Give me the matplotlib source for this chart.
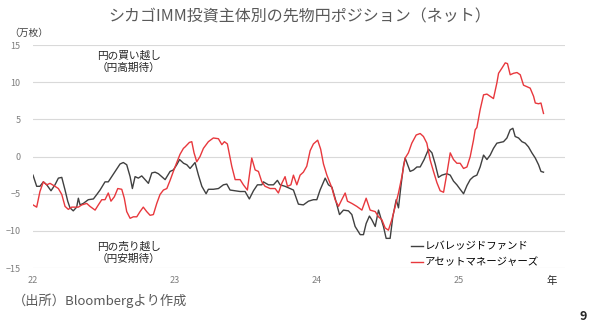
import matplotlib
matplotlib.use('Agg')
import matplotlib.pyplot as plt

plt.rcParams['font.family'] = ['Noto Sans CJK JP', 'DejaVu Sans']

# years since start of 2022
lev_t = [0.000, 0.026, 0.049, 0.073, 0.097, 0.127, 0.155, 0.179, 0.203, 0.226,
         0.245, 0.261, 0.284, 0.308, 0.320, 0.332, 0.355, 0.390, 0.426, 0.450,
         0.473, 0.508, 0.531, 0.555, 0.579, 0.614, 0.637, 0.661, 0.685, 0.701,
         0.720, 0.743, 0.767, 0.790, 0.814, 0.838, 0.861, 0.884, 0.908, 0.932,
         0.967, 0.990, 1.014, 1.034, 1.062, 1.085, 1.108, 1.143, 1.167, 1.191,
         1.221, 1.237, 1.272, 1.308, 1.343, 1.367, 1.390, 1.426, 1.461, 1.496,
         1.526, 1.555, 1.583, 1.614, 1.625, 1.661, 1.696, 1.724, 1.743, 1.778,
         1.814, 1.837, 1.872, 1.907, 1.943, 1.978, 2.002, 2.025, 2.061, 2.084,
         2.108, 2.131, 2.162, 2.190, 2.225, 2.249, 2.272, 2.308, 2.331, 2.350,
         2.373, 2.390, 2.414, 2.437, 2.454, 2.472, 2.491, 2.519, 2.538, 2.562,
         2.578, 2.595, 2.613, 2.625, 2.660, 2.684, 2.708, 2.731, 2.759, 2.790,
         2.814, 2.837, 2.860, 2.884, 2.919, 2.943, 2.966, 2.990, 3.013, 3.037,
         3.061, 3.084, 3.107, 3.131, 3.154, 3.178, 3.202, 3.225, 3.248, 3.272,
         3.296, 3.319, 3.343, 3.366, 3.385, 3.401, 3.425, 3.449, 3.472, 3.495,
         3.519, 3.543, 3.566, 3.583, 3.601]
lev_v = [-2.5, -4.0, -4.0, -3.4, -3.8, -4.6, -3.8, -2.9, -2.8, -4.5,
         -6.0, -6.9, -7.3, -6.8, -5.6, -6.5, -6.3, -5.8, -5.7, -5.1,
         -4.5, -3.4, -3.4, -2.7, -2.0, -1.0, -0.8, -1.1, -2.7, -4.3,
         -2.7, -2.9, -2.6, -3.1, -3.6, -2.2, -2.1, -2.3, -2.7, -3.1,
         -2.0, -1.8, -1.1, -0.4, -0.9, -1.1, -1.6, -0.8, -2.5, -4.0,
         -5.0, -4.4, -4.4, -4.3, -3.8, -3.7, -4.5, -4.6, -4.7, -4.7,
         -5.7, -4.6, -3.8, -3.8, -3.4, -3.8, -3.8, -3.2, -3.8, -4.0,
         -4.3, -4.5, -6.4, -6.5, -6.0, -5.8, -5.8, -4.5, -2.9, -3.8,
         -4.1, -5.6, -7.8, -7.2, -7.3, -7.8, -9.4, -10.5, -10.5, -9.0,
         -8.0, -8.5, -9.4, -7.2, -8.3, -9.4, -11.0, -11.0, -8.1, -5.8,
         -6.9, -4.0, -1.3, -0.2, -2.0, -1.8, -1.4, -1.4, -0.4, 1.0,
         0.5, -1.0, -2.8, -2.5, -2.3, -2.5, -3.3, -3.8, -4.4, -5.0,
         -3.9, -3.1, -2.7, -2.5, -1.4, 0.2, -0.4, 0.2, 1.1, 1.8,
         1.9, 2.0, 2.5, 3.6, 3.8, 2.7, 2.5, 2.0, 1.8, 1.3,
         0.5, -0.2, -1.1, -2.0, -2.1]

am_t = [0.000, 0.026, 0.049, 0.073, 0.097, 0.120, 0.155, 0.179, 0.203, 0.226,
        0.249, 0.273, 0.296, 0.320, 0.344, 0.379, 0.402, 0.438, 0.461, 0.485,
        0.508, 0.531, 0.550, 0.574, 0.598, 0.626, 0.644, 0.661, 0.685, 0.708,
        0.732, 0.755, 0.778, 0.802, 0.826, 0.849, 0.873, 0.896, 0.920, 0.944,
        0.967, 0.990, 1.014, 1.037, 1.061, 1.073, 1.103, 1.120, 1.136, 1.155,
        1.178, 1.202, 1.237, 1.272, 1.308, 1.332, 1.350, 1.371, 1.402, 1.426,
        1.461, 1.484, 1.512, 1.543, 1.567, 1.590, 1.614, 1.637, 1.673, 1.708,
        1.731, 1.755, 1.778, 1.795, 1.819, 1.837, 1.861, 1.884, 1.907, 1.931,
        1.955, 1.978, 2.008, 2.029, 2.049, 2.073, 2.108, 2.131, 2.155, 2.178,
        2.202, 2.218, 2.249, 2.284, 2.320, 2.350, 2.378, 2.414, 2.437, 2.461,
        2.484, 2.507, 2.531, 2.555, 2.578, 2.602, 2.625, 2.648, 2.672, 2.703,
        2.731, 2.754, 2.778, 2.802, 2.825, 2.849, 2.872, 2.896, 2.920, 2.943,
        2.966, 2.990, 3.013, 3.037, 3.061, 3.084, 3.107, 3.119, 3.131, 3.154,
        3.178, 3.202, 3.225, 3.248, 3.272, 3.284, 3.308, 3.331, 3.347, 3.366,
        3.390, 3.414, 3.437, 3.460, 3.484, 3.507, 3.531, 3.543, 3.566, 3.583,
        3.601]
am_v = [-6.5, -6.8, -4.7, -3.4, -3.8, -3.6, -4.0, -4.3, -5.1, -6.7,
        -7.1, -6.8, -6.8, -6.8, -6.5, -6.3, -6.7, -7.2, -6.5, -5.8,
        -5.8, -4.9, -6.0, -5.4, -4.3, -4.4, -5.6, -7.4, -8.3, -8.1,
        -8.1, -7.4, -6.8, -7.4, -7.9, -7.8, -6.3, -5.1, -4.5, -4.3,
        -3.2, -2.0, -0.8, 0.3, 1.1, 1.3, 1.9, 2.0, 0.5, -0.7,
        0.0, 1.1, 2.0, 2.5, 2.4, 1.6, 2.0, 1.7, -1.3, -3.1,
        -3.1, -3.8, -4.5, -0.2, -1.8, -2.0, -3.4, -4.0, -4.3, -4.3,
        -4.9, -3.6, -2.7, -4.0, -3.8, -2.5, -3.8, -2.5, -2.1, -1.3,
        0.8, 1.7, 2.2, 1.0, -1.0, -2.5, -4.2, -5.8, -6.7, -5.8,
        -4.9, -6.0, -6.3, -6.7, -7.2, -5.6, -7.2, -7.4, -8.1, -8.5,
        -9.6, -9.9, -8.5, -6.7, -4.9, -2.7, -0.2, 0.5, 1.8, 2.9,
        3.1, 2.7, 1.8, -0.5, -2.0, -3.5, -4.6, -4.8, -2.2, 0.5,
        -0.4, -0.9, -0.9, -1.6, -1.4, 0.0, 2.2, 3.6, 3.9, 6.3,
        8.3, 8.4, 8.1, 7.8, 9.9, 11.2, 11.9, 12.6, 12.5, 11.0,
        11.2, 11.3, 11.0, 9.6, 9.4, 9.2, 8.1, 7.2, 7.1, 7.2,
        5.8]

year_ticks = [0, 1, 2, 3]
year_labels = ['22', '23', '24', '25']
y_ticks = [-15, -10, -5, 0, 5, 10, 15]

fig = plt.figure(figsize=(6, 3.31), dpi=100)
ax = fig.add_axes([0.055, 0.190, 0.887, 0.674])

ax.plot(lev_t, lev_v, color='#404040', lw=1.0, label='レバレッジドファンド')
ax.plot(am_t, am_v, color='#e8383d', lw=1.0, label='アセットマネージャーズ')

ax.set_xlim(0, 3.754)
ax.set_ylim(-15, 15)
ax.set_yticks(y_ticks)
ax.set_xticks(year_ticks)
ax.set_xticklabels(year_labels)
ax.grid(axis='y', color='#d9d9d9', lw=0.8)
ax.set_axisbelow(True)
for s in ax.spines.values():
    s.set_visible(False)
ax.tick_params(length=0, labelsize=6.5, colors='#7f7f7f')
ax.tick_params(axis='y', pad=9)
ax.tick_params(axis='x', pad=6)

ax.legend(loc='lower left', bbox_to_anchor=(0.70, -0.02), frameon=False,
          fontsize=7.5, handlelength=1.2, handletextpad=0.1, labelspacing=0.55,
          borderpad=0)

fig.text(0.5, 0.948, 'シカゴIMM投資主体別の先物円ポジション（ネット）', ha='center', va='center',
         fontsize=11.5, color='#595959')
fig.text(0.015, 0.900, '（万枚）', ha='left', va='center', fontsize=7, color='#404040')
fig.text(0.215, 0.814, '円の買い越し\n（円高期待）', ha='center', va='center', fontsize=7.7,
         color='#262626', linespacing=1.3)
fig.text(0.215, 0.236, '円の売り越し\n（円安期待）', ha='center', va='center', fontsize=7.7,
         color='#262626', linespacing=1.3)
fig.text(0.920, 0.151, '年', ha='center', va='center', fontsize=7.5, color='#262626')
fig.text(0.022, 0.092, '（出所）Bloombergより作成', ha='left', va='center', fontsize=9.5,
         color='#595959')
fig.text(0.972, 0.045, '9', ha='center', va='center', fontsize=9, fontweight='bold',
         color='#262626')

fig.savefig('out.png', dpi=100)
